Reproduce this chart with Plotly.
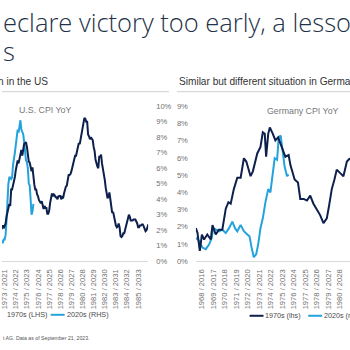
import plotly.graph_objects as go

# ---------------- DATA ----------------
# US CPI YoY, 1970s (LHS scale), monthly
us70_years = list(range(1972, 1986))
us70_values = [
    [3.3, 3.5, 3.5, 3.5, 3.2, 2.7, 2.9, 2.9, 3.2, 3.4, 3.7, 3.4],
    [3.6, 3.9, 4.6, 5.1, 5.5, 5.9, 5.7, 7.4, 7.4, 7.8, 8.3, 8.7],
    [9.4, 10.0, 10.4, 10.1, 10.7, 10.9, 11.5, 10.9, 11.9, 12.1, 12.2, 12.3],
    [11.8, 11.2, 10.3, 10.2, 9.5, 9.3, 9.7, 8.6, 7.9, 7.4, 7.4, 6.9],
    [6.7, 6.3, 6.1, 6.0, 6.2, 5.9, 5.4, 5.7, 5.5, 5.5, 4.9, 4.9],
    [5.2, 6.0, 6.4, 7.0, 6.7, 6.9, 6.8, 6.6, 6.6, 6.4, 6.7, 6.7],
    [6.8, 6.4, 6.6, 6.5, 7.0, 7.4, 7.7, 7.8, 8.3, 8.9, 8.9, 9.0],
    [9.3, 9.9, 10.1, 10.5, 10.9, 10.9, 11.3, 11.8, 12.2, 12.1, 12.6, 13.3],
    [13.9, 14.2, 14.8, 14.7, 14.4, 14.4, 13.1, 12.9, 12.6, 12.8, 12.6, 12.5],
    [11.8, 11.4, 10.5, 10.0, 9.8, 9.6, 10.8, 10.8, 11.0, 10.1, 9.6, 8.9],
    [8.4, 7.6, 6.8, 6.5, 6.7, 7.1, 6.4, 5.9, 5.0, 5.1, 4.6, 3.8],
    [3.7, 3.5, 3.6, 3.9, 3.5, 2.6, 2.5, 2.6, 2.9, 2.9, 3.3, 3.8],
    [4.2, 4.6, 4.8, 4.6, 4.2, 4.2, 4.2, 4.3, 4.3, 4.3, 4.1, 3.9],
    [3.5, 3.5, 3.7, 3.7, 3.8, 3.8, 3.6, 3.3, 3.1, 3.2, 3.5, 3.8],
]
# US CPI YoY, 2020s (RHS scale), monthly
us20_years = [2020, 2021, 2022, 2023]
us20_values = [
    [2.5, 2.3, 1.5, 0.3, 0.1, 0.6, 1.0, 1.3, 1.4, 1.2, 1.2, 1.4],
    [1.4, 1.7, 2.6, 4.2, 5.0, 5.4, 5.4, 5.3, 5.4, 6.2, 6.8, 7.0],
    [7.5, 7.9, 8.5, 8.3, 8.6, 9.1, 8.5, 8.3, 8.2, 7.7, 7.1, 6.5],
    [6.4, 6.0, 5.0, 4.9, 4.0, 3.0, 3.2, 3.7],
]

# Germany CPI YoY, 1970s, decimal year / %
de70_x = [1967.51, 1967.65, 1967.85, 1968.03, 1968.22, 1968.5, 1968.8, 1968.95, 1969.23,
          1969.5, 1969.8, 1969.95, 1970.1, 1970.33, 1970.53, 1970.8, 1971.1, 1971.39,
          1971.67, 1971.88, 1972.25, 1972.45, 1972.83, 1973.11, 1973.31, 1973.48, 1973.6,
          1973.78, 1973.92, 1974.18, 1974.4, 1974.64, 1974.92, 1975.27, 1975.55, 1975.7,
          1976.07, 1976.36, 1976.56, 1976.85, 1977.14, 1977.42, 1977.7, 1978.0, 1978.28,
          1978.57, 1978.86, 1979.06, 1979.29, 1979.52, 1979.72, 1980.0, 1980.3, 1980.6, 1980.87]
de70_y = [1.92, 1.64, 0.6, 1.55, 1.26, 1.55, 1.26, 2.1, 1.55,
          1.83, 1.83, 2.4, 3.05, 3.43, 3.34, 4.19, 4.85, 4.85,
          5.98, 5.79, 4.94, 5.22, 6.26, 6.64, 7.49, 7.4, 6.07,
          7.4, 7.77, 7.4, 7.02, 7.2, 6.64, 6.07, 6.17, 5.6,
          4.75, 4.57, 3.62, 3.62, 3.53, 3.81, 3.34, 2.96, 2.68,
          2.21, 2.49, 3.24, 4.19, 4.75, 5.32, 5.13, 4.94, 5.79, 5.98]
de20_x = [1967.51, 1967.8, 1968.08, 1968.37, 1968.66, 1968.89, 1969.0, 1969.23, 1969.52,
          1969.8, 1970.1, 1970.38, 1970.67, 1970.9, 1971.1, 1971.39, 1971.67, 1971.97,
          1972.16, 1972.34, 1972.53, 1972.74, 1972.91, 1973.11, 1973.31, 1973.54, 1973.78,
          1973.97, 1974.17, 1974.34, 1974.55, 1974.69, 1974.86, 1975.03, 1975.2, 1975.41, 1975.55]
de20_y = [1.36, 1.17, 0.79, 0.7, 0.98, 1.36, 1.92, 1.83, 1.74,
          1.83, 1.64, 1.92, 2.3, 1.92, 1.74, 2.11, 1.74, 1.55,
          1.45, 0.79, 0.23, 0.41, 0.98, 1.92, 2.49, 3.43, 4.19,
          4.0, 5.13, 5.98, 5.89, 7.2, 7.3, 6.55, 5.51, 4.94, 5.04]

us_ticks = list(range(1973, 1986))
de_ticks = list(range(1968, 1981))
OFFSET = 48

# ---------------- BUILD ----------------
NAVY = "#0d1f4d"
LIGHT = "#23a2dc"
GRAY = "#707070"

def flat(years, vals):
    xs, ys = [], []
    for yr, row in zip(years, vals):
        for m, v in enumerate(row):
            xs.append(yr + m / 12.0)
            ys.append(v)
    return xs, ys

us70_x, us70_y = flat(us70_years, us70_values)
us20_xr, us20_y = flat(us20_years, us20_values)
us20_x = [x - OFFSET for x in us20_xr]

fig = go.Figure()
fig.add_trace(go.Scatter(x=us70_x, y=us70_y, mode="lines", line=dict(color=NAVY, width=2),
                         xaxis="x", yaxis="y2", showlegend=False))
fig.add_trace(go.Scatter(x=us20_x, y=us20_y, mode="lines", line=dict(color=LIGHT, width=2),
                         xaxis="x", yaxis="y", showlegend=False))
fig.add_trace(go.Scatter(x=de20_x, y=de20_y, mode="lines", line=dict(color=LIGHT, width=2),
                         xaxis="x2", yaxis="y3", showlegend=False))
fig.add_trace(go.Scatter(x=de70_x, y=de70_y, mode="lines", line=dict(color=NAVY, width=2),
                         xaxis="x2", yaxis="y3", showlegend=False))

W = 350.0
def px(x):
    return x / W
def py(y):
    return 1 - y / W

ydom = [py(264), py(105)]
tickfont = dict(family="Liberation Sans, Arial, sans-serif", size=7.6, color=GRAY)

fig.update_layout(
    width=350, height=350,
    margin=dict(l=0, r=0, t=0, b=0),
    paper_bgcolor="white", plot_bgcolor="white",
    xaxis=dict(domain=[0, px(147)], range=[1972.76, 1985.9], tickmode="array",
               tickvals=us_ticks, ticktext=[f"{y} / {y + OFFSET}" for y in us_ticks],
               tickangle=-90, tickfont=tickfont, showgrid=False, zeroline=False,
               showline=True, linecolor="#d9d9d9", linewidth=1, ticks="", anchor="y",
               ticklabelstandoff=4, ticklabeloverflow="allow"),
    yaxis=dict(domain=ydom, range=[0, 10], dtick=1, ticksuffix="%", side="right",
               anchor="x", tickfont=tickfont, showgrid=False, zeroline=False, ticks="",
               ticklabelstandoff=7),
    yaxis2=dict(domain=ydom, range=[0, 16], overlaying="y", visible=False, anchor="x"),
    xaxis2=dict(domain=[px(195), 1], range=[1967.51, 1980.87], tickmode="array",
                tickvals=de_ticks, ticktext=[f"{y} / {y + OFFSET}" for y in de_ticks],
                tickangle=-90, tickfont=tickfont, showgrid=False, zeroline=False,
                showline=True, linecolor="#d9d9d9", linewidth=1, ticks="", anchor="y3",
                ticklabelstandoff=4, ticklabeloverflow="allow"),
    yaxis3=dict(domain=ydom, range=[0, 9], dtick=1, ticksuffix="%", anchor="x2",
                tickfont=tickfont, showgrid=False, zeroline=False, ticks="",
                ticklabelstandoff=7),
)

TITLE_FONT = dict(family="Open Sans, Noto Sans, sans-serif", size=25.5, color="#243248", weight=300)
SUB_FONT = dict(family="Liberation Sans, Arial, sans-serif", size=10.1, color="#333333")
CHART_T = dict(family="Liberation Sans, Arial, sans-serif", size=8.8, color="#777777")
LEG_FONT = dict(family="Liberation Sans, Arial, sans-serif", size=7.2, color="#4a4a4a")

ann = [
    dict(text="eclare victory too early, a lesso", x=px(-1), y=py(18), xanchor="left", yanchor="middle", font=TITLE_FONT),
    dict(text="s", x=px(-1), y=py(48), xanchor="left", yanchor="middle", font=TITLE_FONT),
    dict(text="n in the US", x=px(48), y=py(80), xanchor="right", yanchor="middle", font=SUB_FONT),
    dict(text="Similar but different situation in Germany", x=px(176), y=py(80), xanchor="left", yanchor="middle", font=SUB_FONT),
    dict(text="U.S. CPI YoY", x=px(43), y=py(109), xanchor="center", yanchor="middle", font=CHART_T),
    dict(text="Germany CPI YoY", x=px(303), y=py(110), xanchor="center", yanchor="middle", font=CHART_T),
    dict(text="1970s (LHS)", x=px(47), y=py(319), xanchor="right", yanchor="middle", font=LEG_FONT),
    dict(text="2020s (RHS)", x=px(63), y=py(319), xanchor="left", yanchor="middle", font=LEG_FONT),
    dict(text="1970s (lhs)", x=px(263), y=py(320), xanchor="left", yanchor="middle", font=LEG_FONT),
    dict(text="2020s (rhs)", x=px(322), y=py(320), xanchor="left", yanchor="middle", font=LEG_FONT),
    dict(text="t AG. Data as of September 21, 2023.", x=px(-1), y=py(343), xanchor="left", yanchor="middle",
         font=dict(family="Liberation Sans, Arial, sans-serif", size=5.2, color="#555555")),
]
for a in ann:
    a.update(xref="paper", yref="paper", showarrow=False)
fig.update_layout(annotations=ann)

shapes = [
    dict(type="line", x0=px(0), x1=px(168), y0=py(90), y1=py(90), line=dict(color="#d0d0d0", width=1)),
    dict(type="line", x0=px(176), x1=px(350), y0=py(90), y1=py(90), line=dict(color="#d0d0d0", width=1)),
    dict(type="line", x0=px(49), x1=px(63), y0=py(319), y1=py(319), line=dict(color=LIGHT, width=2)),
    dict(type="line", x0=px(249), x1=px(263), y0=py(320), y1=py(320), line=dict(color=NAVY, width=2)),
    dict(type="line", x0=px(308), x1=px(322), y0=py(320), y1=py(320), line=dict(color=LIGHT, width=2)),
]
for s in shapes:
    s.update(xref="paper", yref="paper")
fig.update_layout(shapes=shapes)

fig.write_html("out.html")
